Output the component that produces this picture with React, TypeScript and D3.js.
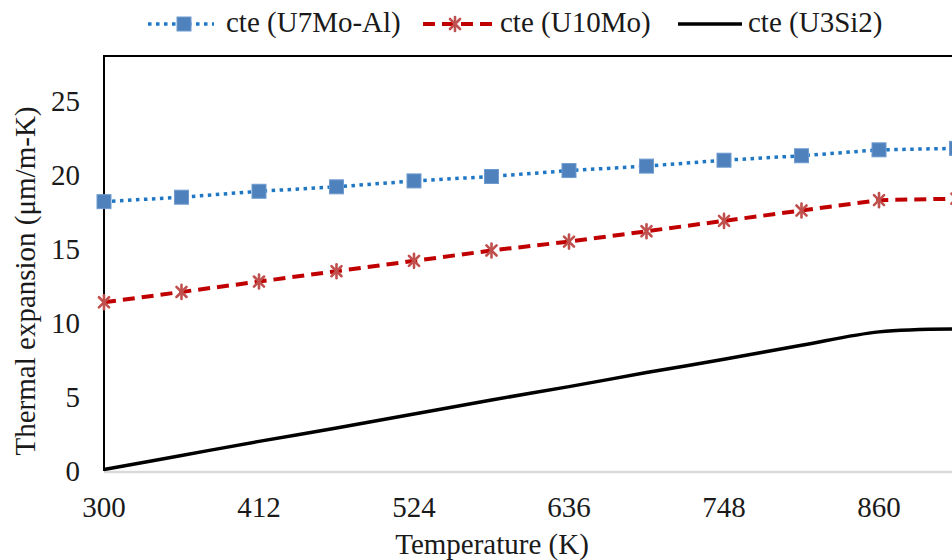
import React from "react";
import * as d3 from "d3";

const temperatures = [300, 356, 412, 468, 524, 580, 636, 692, 748, 804, 860, 916];
const cteU7MoAl = [18.2, 18.5, 18.9, 19.2, 19.6, 19.9, 20.3, 20.6, 21.0, 21.3, 21.7, 21.8];
const cteU10Mo = [11.4, 12.1, 12.8, 13.5, 14.2, 14.9, 15.5, 16.2, 16.9, 17.6, 18.3, 18.4];
const cteU3Si2 = [0.1, 1.05, 2.0, 2.9, 3.85, 4.8, 5.7, 6.65, 7.55, 8.5, 9.4, 9.6];
const xTicks = [300, 412, 524, 636, 748, 860];
const yTicks = [0, 5, 10, 15, 20, 25];

const FONT = "Liberation Serif";
const FS = 29;

function Star({ cx, cy, r, color }: { cx: number; cy: number; r: number; color: string }) {
  const d = r * 0.72;
  return (
    <g stroke={color} strokeWidth={2.6} strokeLinecap="round">
      <line x1={cx - d} y1={cy - d} x2={cx + d} y2={cy + d} />
      <line x1={cx - d} y1={cy + d} x2={cx + d} y2={cy - d} />
      <line x1={cx} y1={cy - r} x2={cx} y2={cy + r} />
    </g>
  );
}

export default function App() {
  const W = 952;
  const H = 560;
  const x = d3.scaleLinear().domain([300, 916]).range([104, 956.5]);
  const y = d3.scaleLinear().domain([0, 28]).range([471, 56.6]);

  const lineStraight = d3
    .line<number>()
    .x((_, i) => x(temperatures[i]))
    .y((v) => y(v));
  const lineSmooth = d3
    .line<number>()
    .x((_, i) => x(temperatures[i]))
    .y((v) => y(v))
    .curve(d3.curveCatmullRom.alpha(0.5));

  const blueLine = "#1f77c4";
  const blueMarker = "#4f81bd";
  const redLine = "#c00000";
  const redMarker = "#c0504d";
  const textColor = "#1a1a1a";

  return (
    <div style={{ position: "fixed", left: 0, top: 0 }}>
      <svg width={W} height={H} style={{ display: "block", background: "#fff" }}>
        <defs>
          <clipPath id="plotclip">
            <rect x={0} y={0} width={W} height={H} />
          </clipPath>
        </defs>
        {/* plot frame */}
        <line x1={x(300)} x2={W} y1={y(0) + 1} y2={y(0) + 1} stroke="#d9d9d9" strokeWidth={2.5} />
        <line x1={x(300)} x2={W} y1={56} y2={56} stroke="#000" strokeWidth={2} />
        <line x1={x(300)} x2={x(300)} y1={55} y2={y(0)} stroke="#000" strokeWidth={2} />

        {/* y tick labels */}
        {yTicks.map((t) => (
          <text
            key={t}
            x={80}
            y={y(t)}
            dy="0.35em"
            textAnchor="end"
            fontFamily={FONT}
            fontSize={FS}
            fill={textColor}
          >
            {t}
          </text>
        ))}
        {/* x tick labels */}
        {xTicks.map((t) => (
          <text
            key={t}
            x={x(t)}
            y={517}
            textAnchor="middle"
            fontFamily={FONT}
            fontSize={FS}
            fill={textColor}
          >
            {t}
          </text>
        ))}
        {/* axis titles */}
        <text x={492} y={554} textAnchor="middle" fontFamily={FONT} fontSize={FS} fill={textColor}>
          Temperature (K)
        </text>
        <text
          transform="translate(35,281) rotate(-90)"
          textAnchor="middle"
          fontFamily={FONT}
          fontSize={FS}
          fill={textColor}
        >
          Thermal expansion (μm/m-K)
        </text>

        <g clipPath="url(#plotclip)">
          {/* U3Si2 */}
          <path d={lineSmooth(cteU3Si2) || ""} fill="none" stroke="#000" strokeWidth={3.5} />
          {/* U10Mo */}
          <path
            d={lineStraight(cteU10Mo) || ""}
            fill="none"
            stroke={redLine}
            strokeWidth={4}
            strokeDasharray="12 7"
          />
          {cteU10Mo.map((v, i) => (
            <Star key={i} cx={x(temperatures[i])} cy={y(v)} r={7} color={redMarker} />
          ))}
          {/* U7Mo-Al */}
          <path
            d={lineStraight(cteU7MoAl) || ""}
            fill="none"
            stroke={blueLine}
            strokeWidth={3.5}
            strokeDasharray="3.5 4.5"
          />
          {cteU7MoAl.map((v, i) => (
            <rect
              key={i}
              x={x(temperatures[i]) - 7}
              y={y(v) - 7}
              width={14}
              height={14}
              fill={blueMarker}
              stroke="#6f9bd0"
              strokeWidth={1}
            />
          ))}
        </g>

        {/* legend */}
        <g>
          <line x1={148} x2={214} y1={24} y2={24} stroke={blueLine} strokeWidth={3.5} strokeDasharray="3.5 4.5" />
          <rect x={177} y={17} width={14} height={14} fill={blueMarker} stroke="#6f9bd0" strokeWidth={1} />
          <text x={226} y={32} fontFamily={FONT} fontSize={FS} fill={textColor}>
            cte (U7Mo-Al)
          </text>
          <line x1={423} x2={493} y1={24} y2={24} stroke={redLine} strokeWidth={4} strokeDasharray="12 7" />
          <Star cx={455} cy={24} r={7} color={redMarker} />
          <text x={500} y={32} fontFamily={FONT} fontSize={FS} fill={textColor}>
            cte (U10Mo)
          </text>
          <line x1={678} x2={742} y1={24} y2={24} stroke="#000" strokeWidth={3.5} />
          <text x={748} y={32} fontFamily={FONT} fontSize={FS} fill={textColor}>
            cte (U3Si2)
          </text>
        </g>
      </svg>
    </div>
  );
}
